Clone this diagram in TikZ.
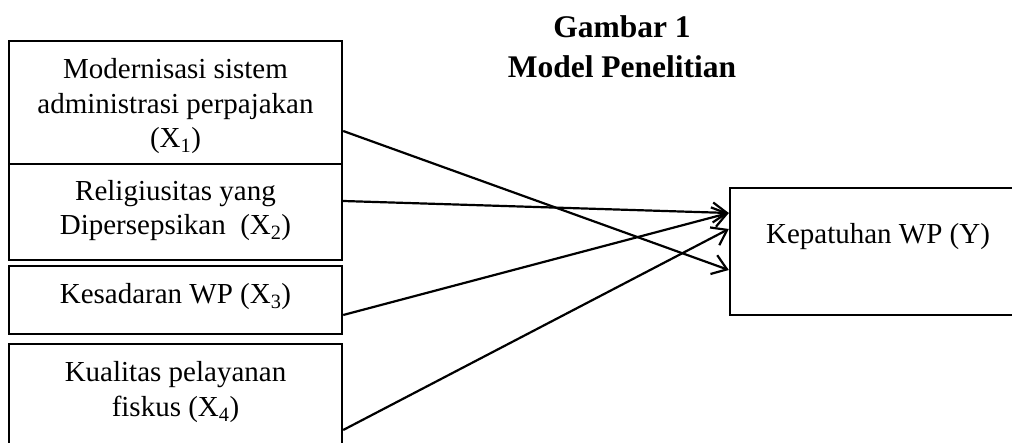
\documentclass[tikz,border=0pt]{standalone}
\usepackage{fontspec}
\setmainfont{Liberation Serif}
\usetikzlibrary{arrows.meta,calc}
\begin{document}
\begin{tikzpicture}[x=1pt,y=-1pt,
  box/.style={draw,line width=2.4pt,inner sep=0pt},
  label text/.style={inner sep=0pt,align=center,font=\fontsize{29}{34.5}\selectfont},
  title text/.style={inner sep=0pt,align=center,font=\fontsize{31.5}{40}\selectfont\bfseries},
  arr/.style={line width=2.2pt,-{Straight Barb[length=14pt,width=20pt,line width=2.2pt]}}]
\useasboundingbox (0,0) rectangle (1012,443);
\clip (0,0) rectangle (1012,443);

% title
\node[title text] (title) at (622,46.4) {Gambar 1\\Model Penelitian};

% independent variables
\node[box,minimum width=333pt,minimum height=123pt] (b1) at (175.5,102.5) {};
\node[box,minimum width=333pt,minimum height=96pt] (b2) at (175.5,212) {};
\node[box,minimum width=333pt,minimum height=68pt] (b3) at (175.5,300) {};
\node[box,minimum width=333pt,minimum height=102pt] (b4) at (175.5,395) {};

\node[label text] (t1) at (175.5,106.2) {Modernisasi sistem\\administrasi perpajakan\\(X\textsubscript{1})};
\node[label text] (t2) at (175.5,210.7) {Religiusitas yang\\Dipersepsikan~~(X\textsubscript{2})};
\node[label text] (t3) at (175.5,296.7) {Kesadaran WP (X\textsubscript{3})};
\node[label text] (t4) at (175.5,392) {Kualitas pelayanan\\fiskus (X\textsubscript{4})};

% dependent variable
\node[box,minimum width=296pt,minimum height=127pt] (y) at (878,251.5) {};
\node[label text] (ty) at (878,236.3) {Kepatuhan WP (Y)};

% paths
\draw[arr] ([yshift=-28.5pt]b1.east) -- ([yshift=-18.5pt]y.west);
\draw[arr] ([yshift=11pt]b2.east) -- ([yshift=38.5pt]y.west);
\draw[arr] ([yshift=-15pt]b3.east) -- ([yshift=38.5pt]y.west);
\draw[arr] ([yshift=-35pt]b4.east) -- ([yshift=22.5pt]y.west);
\end{tikzpicture}
\end{document}
